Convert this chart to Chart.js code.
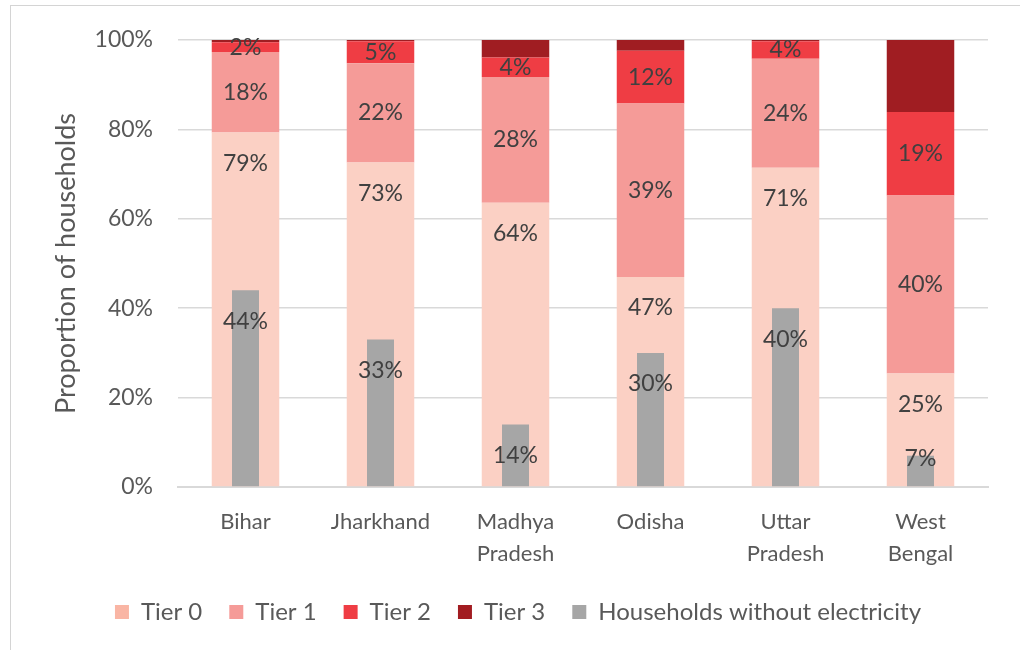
<!DOCTYPE html>
<html>
<head>
<meta charset="utf-8">
<script src="https://cdn.jsdelivr.net/npm/chart.js@4"></script>
<style>
  html, body { margin: 0; padding: 0; background: #fff; }
  #wrap { position: relative; width: 1020px; height: 650px; }
  #frame { position: absolute; left: 10px; top: 5px; width: 1010px; height: 645px;
           border-left: 1px solid #d4d4d4; border-top: 1px solid #d4d4d4; }
  #chart { position: absolute; left: 0; top: 0; }
</style>
</head>
<body>
<div id="wrap">
  <div id="frame"></div>
  <canvas id="chart" width="1020" height="650"></canvas>
</div>
<script>
// --- Data ---
const states = [['Bihar'], ['Jharkhand'], ['Madhya', 'Pradesh'], ['Odisha'], ['Uttar', 'Pradesh'], ['West', 'Bengal']];
const tier0 = [79.3, 72.6, 63.6, 47.0, 71.4, 25.4];
const tier1 = [18.0, 22.2, 28.1, 38.8, 24.4, 39.8];
const tier2 = [2.2, 4.9, 4.4, 11.8, 3.9, 18.7];
const tier3 = [0.5, 0.3, 3.9, 2.4, 0.3, 16.1];
const noElectricity = [44, 33, 14, 30, 40, 7];
const yTicks = [0, 20, 40, 60, 80, 100];

const FONT = 'Lato, "Open Sans", sans-serif';
const legendColors = ['#F9B5A4', '#F59B98', '#EF3D44', '#A21C21', '#A6A6A6'];

// draws the % labels inside the bars
const barLabels = {
    id: 'barLabels',
    afterLayout(chart) {
        // legend in the reference is centred under the plot, not the whole canvas
        chart.legend.left += 24;
        chart.legend.right += 24;
    },
    afterDatasetsDraw(chart) {
        const ctx = chart.ctx;
        ctx.save();
        ctx.font = '23px ' + FONT;
        ctx.fillStyle = '#404040';
        ctx.textAlign = 'center';
        ctx.textBaseline = 'middle';
        chart.data.datasets.forEach((ds, i) => {
            if (!ds.labelPos) return;
            chart.getDatasetMeta(i).data.forEach((bar, j) => {
                let y;
                if (ds.labelPos === 'end') y = Math.min(bar.y + 31, bar.base - 28);
                else y = (bar.y + bar.base) / 2;
                ctx.fillText(Math.round(ds.data[j]) + '%', bar.x, y);
            });
        });
        ctx.restore();
    }
};

function tier(label, data, color, labelPos) {
    return {
        label: label, data: data, backgroundColor: color,
        stack: 'tiers', order: 1, grouped: false,
        barPercentage: 0.5, categoryPercentage: 1,
        labelPos: labelPos
    };
}

new Chart(document.getElementById('chart').getContext('2d'), {
    type: 'bar',
    data: {
        labels: states,
        datasets: [
            tier('Tier 0', tier0, '#FBD0C4', 'end'),
            tier('Tier 1', tier1, '#F59B98', 'center'),
            tier('Tier 2', tier2, '#EF3D44', 'center'),
            tier('Tier 3', tier3, '#A01D22', null),
            {
                label: 'Households without electricity',
                data: noElectricity,
                backgroundColor: '#A6A6A6',
                stack: 'grey', order: 0, grouped: false,
                barPercentage: 0.2, categoryPercentage: 1,
                labelPos: 'end'
            }
        ]
    },
    options: {
        responsive: false,
        animation: false,
        layout: { padding: { top: 40, right: 32, bottom: 16, left: 0 } },
        plugins: {
            tooltip: { enabled: false },
            legend: {
                position: 'bottom',
                labels: {
                    font: { family: FONT, size: 24 },
                    color: '#595959',
                    boxWidth: 14, boxHeight: 14,
                    padding: 27,
                    sort: (a, b) => a.datasetIndex - b.datasetIndex,
                    generateLabels(chart) {
                        const items = Chart.defaults.plugins.legend.labels.generateLabels(chart);
                        items.forEach(it => {
                            it.fillStyle = legendColors[it.datasetIndex];
                            it.strokeStyle = legendColors[it.datasetIndex];
                            it.lineWidth = 0;
                        });
                        return items;
                    }
                }
            }
        },
        scales: {
            x: {
                stacked: true,
                grid: { display: false, drawTicks: false },
                border: { color: '#d9d9d9', width: 2 },
                ticks: {
                    font: { family: FONT, size: 22, lineHeight: 1.45 },
                    color: '#595959',
                    padding: 19,
                    maxRotation: 0, autoSkip: false
                },
                afterFit(scale) { scale.height = 86; }
            },
            y: {
                stacked: true,
                min: 0, max: 100,
                afterBuildTicks(scale) { scale.ticks = yTicks.map(v => ({ value: v })); },
                grid: { color: '#d9d9d9', lineWidth: 1.5, drawTicks: false },
                border: { display: false },
                ticks: {
                    font: { family: FONT, size: 23 },
                    color: '#595959',
                    padding: 25,
                    callback: v => v + '%'
                },
                title: {
                    display: true,
                    text: 'Proportion of households',
                    font: { family: FONT, size: 27 },
                    color: '#595959',
                    padding: { top: 50, bottom: 0 }
                },
                afterFit(scale) { scale.width = 178; }
            }
        }
    },
    plugins: [barLabels]
});
</script>
</body>
</html>
